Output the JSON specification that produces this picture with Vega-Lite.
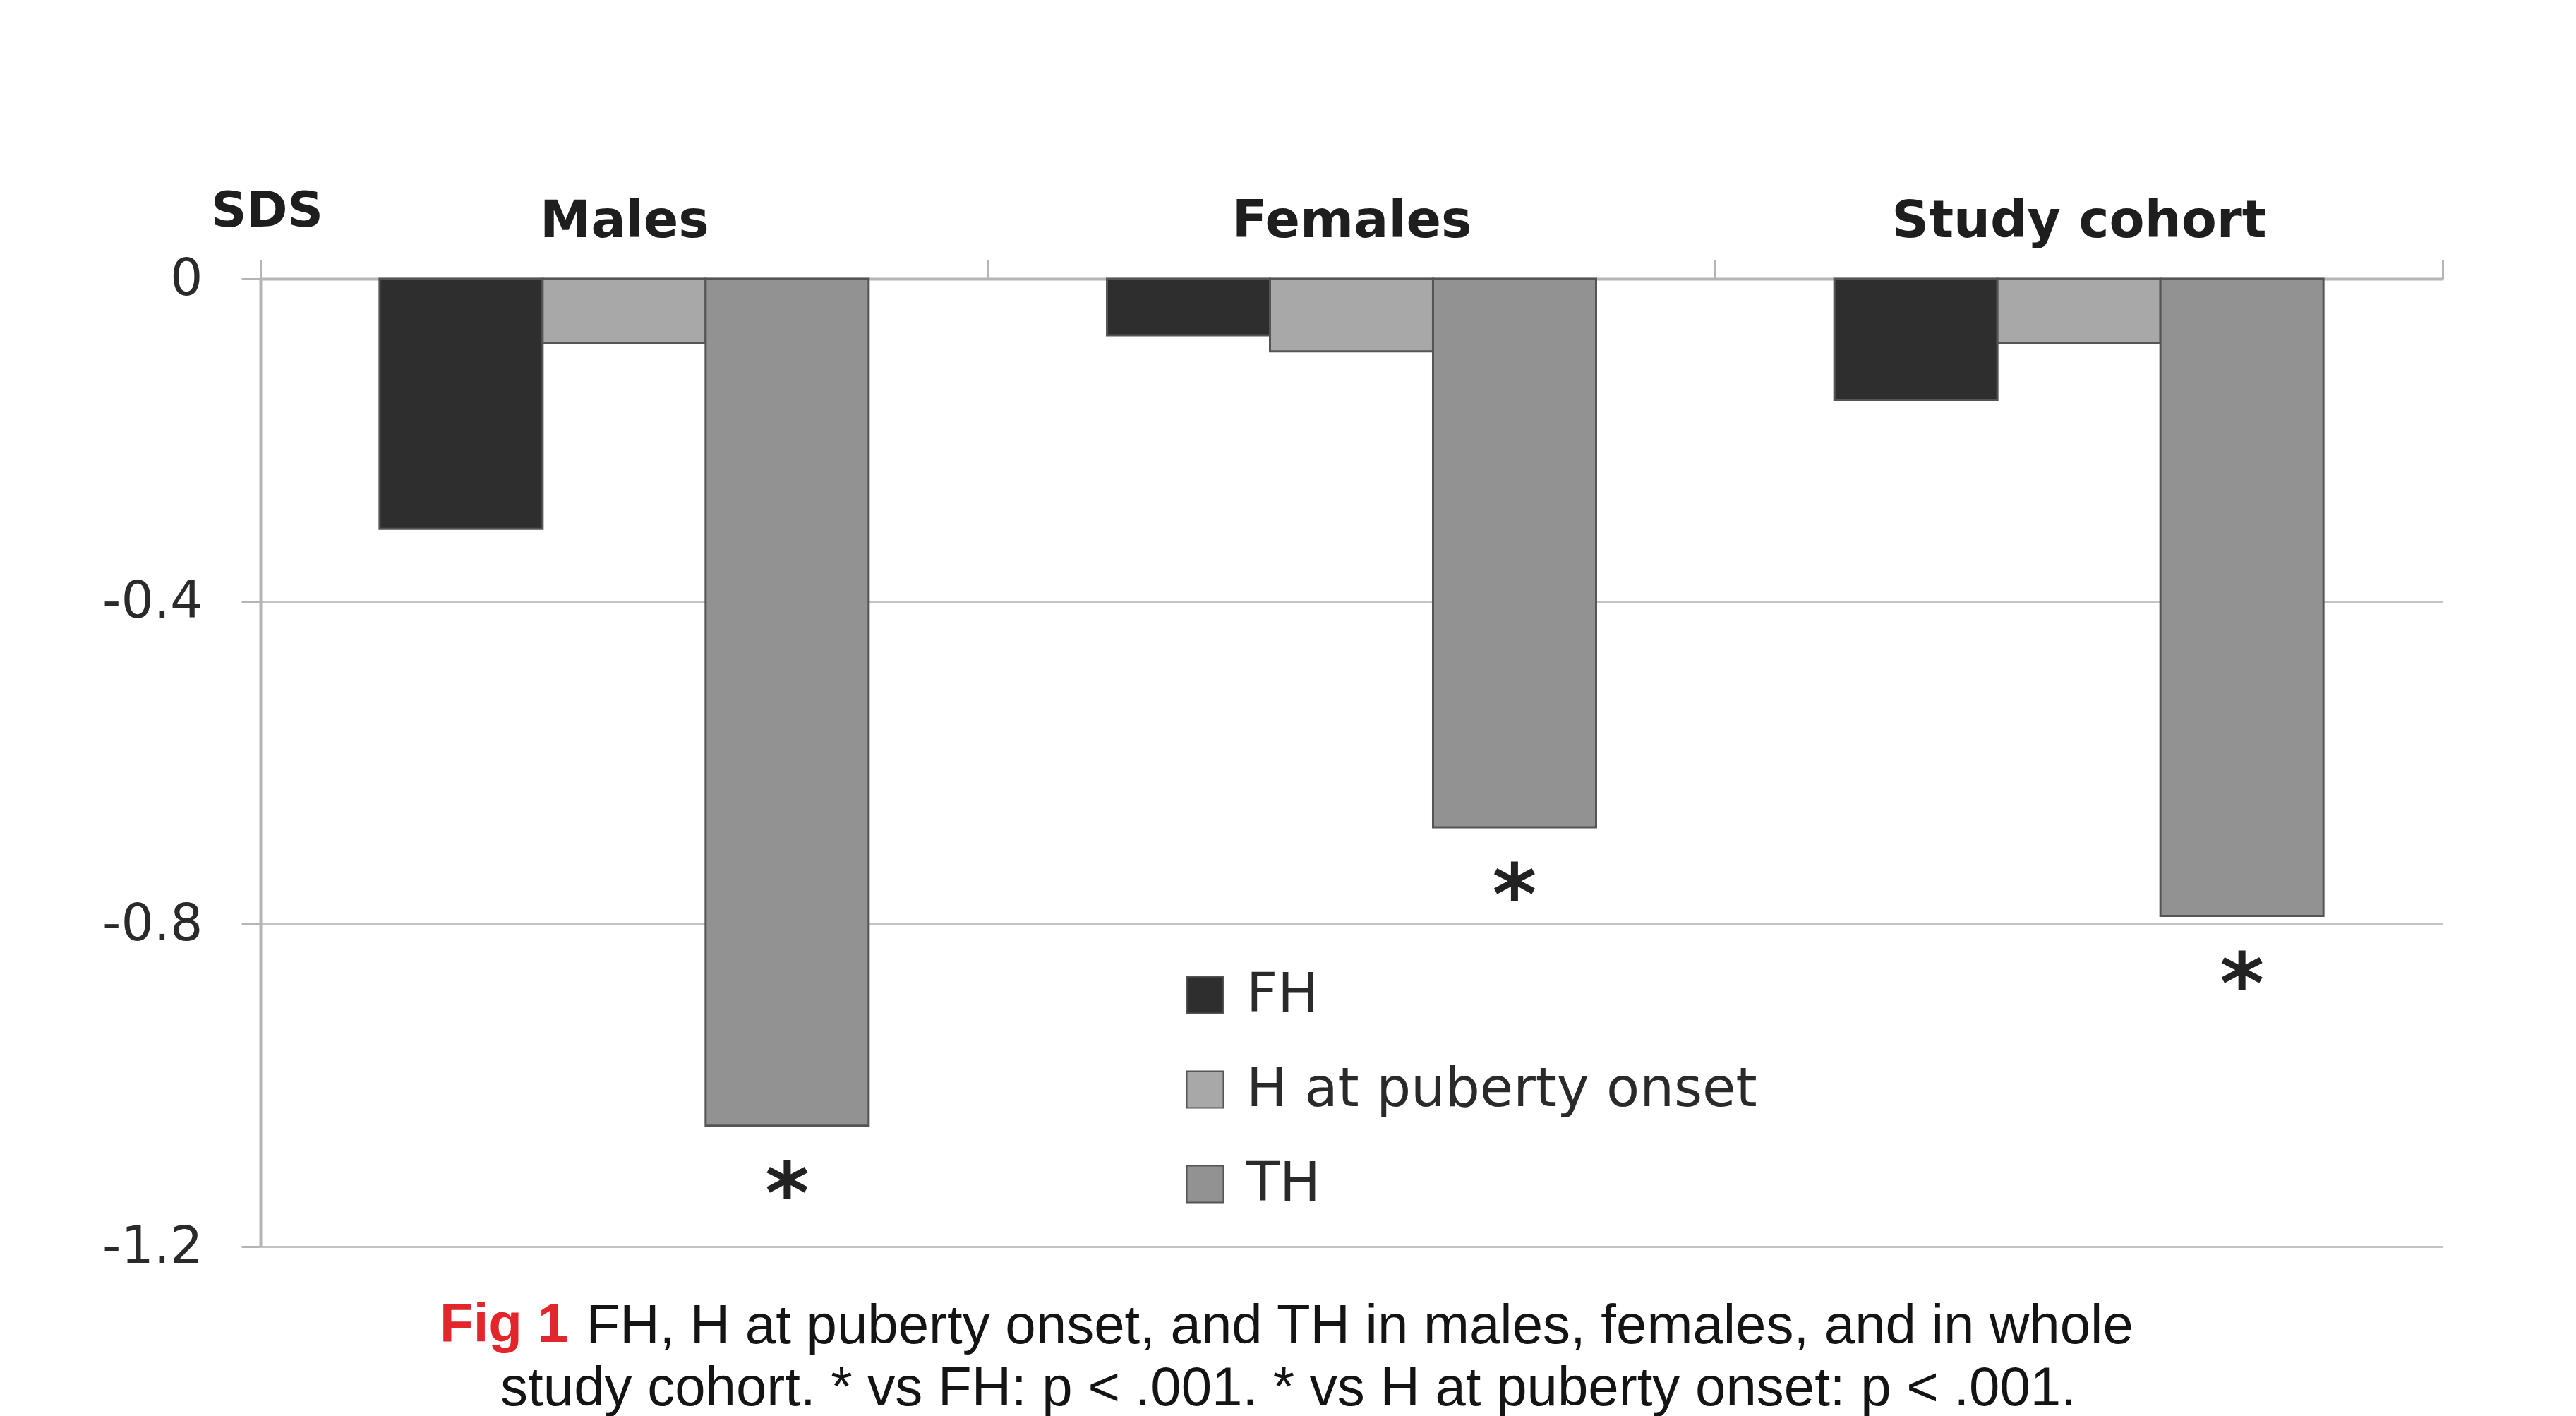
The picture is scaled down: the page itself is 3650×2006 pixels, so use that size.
{
  "$schema": "https://vega.github.io/schema/vega-lite/v6.json",
  "width": 3092,
  "height": 1371,
  "autosize": {"type": "none"},
  "padding": {"left": 369, "top": 395, "right": 189, "bottom": 240},
  "background": "white",
  "config": {"view": {"stroke": null}, "font": "DejaVu Sans"},
  "title": {
    "text": "Fig 1",
    "orient": "bottom",
    "anchor": "start",
    "frame": "group",
    "font": "Liberation Sans",
    "fontSize": 78,
    "fontWeight": "bold",
    "color": "#e3262b",
    "baseline": "alphabetic",
    "offset": -105,
    "dx": 254
  },
  "data": {
    "values": [
      {"group": "Males", "series": "FH", "value": -0.31, "sig": ""},
      {"group": "Males", "series": "H at puberty onset", "value": -0.08, "sig": ""},
      {"group": "Males", "series": "TH", "value": -1.05, "sig": "*"},
      {"group": "Females", "series": "FH", "value": -0.07, "sig": ""},
      {"group": "Females", "series": "H at puberty onset", "value": -0.09, "sig": ""},
      {"group": "Females", "series": "TH", "value": -0.68, "sig": "*"},
      {"group": "Study cohort", "series": "FH", "value": -0.15, "sig": ""},
      {"group": "Study cohort", "series": "H at puberty onset", "value": -0.08, "sig": ""},
      {"group": "Study cohort", "series": "TH", "value": -0.79, "sig": "*"}
    ]
  },
  "encoding": {
    "xOffset": {
      "field": "series",
      "type": "nominal",
      "sort": ["FH", "H at puberty onset", "TH"],
      "scale": {"paddingInner": 0, "paddingOuter": 0.731}
    }
  },
  "layer": [
    {
      "mark": {"type": "bar", "stroke": "#555555", "strokeWidth": 3},
      "encoding": {
        "x": {
          "field": "group",
          "type": "nominal",
          "sort": ["Males", "Females", "Study cohort"],
          "scale": {"paddingInner": 0, "paddingOuter": 0},
          "axis": {
            "orient": "top",
            "title": null,
            "labelAngle": 0,
            "labelLimit": 2000,
            "labelFont": "DejaVu Sans",
            "labelFontWeight": "bold",
            "labelFontSize": 73,
            "labelColor": "#1e1e1e",
            "labelPadding": 33,
            "labelBaseline": "alphabetic",
            "tickBand": "extent",
            "tickSize": 27,
            "tickColor": "#b5b5b5",
            "tickWidth": 3,
            "domainColor": "#b5b5b5",
            "domainWidth": 4,
            "grid": false
          }
        },
        "y": {
          "field": "value",
          "type": "quantitative",
          "scale": {"domain": [-1.2, 0], "nice": false},
          "axis": {
            "orient": "left",
            "title": "SDS",
            "titleAngle": 0,
            "titleAlign": "center",
            "titleBaseline": "alphabetic",
            "titleX": 9,
            "titleY": -75,
            "titleFont": "DejaVu Sans",
            "titleFontWeight": "bold",
            "titleFontSize": 70,
            "titleColor": "#1e1e1e",
            "values": [0, -0.4, -0.8, -1.2],
            "labelExpr": "replace(format(datum.value, '.1~f'), '\u2212', '-')",
            "labelFont": "DejaVu Sans",
            "labelFontSize": 73,
            "labelColor": "#2a2a2a",
            "labelPadding": 55,
            "tickSize": 27,
            "tickColor": "#b5b5b5",
            "tickWidth": 3,
            "domainColor": "#b5b5b5",
            "domainWidth": 4,
            "grid": true,
            "gridColor": "#c4c4c4",
            "gridWidth": 3
          }
        },
        "fill": {
          "field": "series",
          "type": "nominal",
          "sort": ["FH", "H at puberty onset", "TH"],
          "scale": {"range": ["#2e2e2e", "#a8a8a8", "#929292"]},
          "legend": {
            "orient": "none",
            "legendX": 1300,
            "legendY": 976,
            "title": null,
            "symbolType": "square",
            "symbolSize": 2700,
            "symbolStrokeColor": "#555555",
            "symbolStrokeWidth": 2,
            "symbolOpacity": 1,
            "labelFont": "DejaVu Sans",
            "labelFontSize": 77,
            "labelLimit": 2000,
            "labelColor": "#2a2a2a",
            "labelOffset": 20,
            "rowPadding": 56
          }
        }
      }
    },
    {
      "transform": [{"filter": "datum.sig == '*'"}],
      "mark": {
        "type": "text",
        "font": "DejaVu Sans",
        "fontWeight": "bold",
        "fontSize": 120,
        "color": "#222222",
        "baseline": "alphabetic",
        "align": "center",
        "dy": 137
      },
      "encoding": {
        "x": {
          "field": "group",
          "type": "nominal",
          "sort": ["Males", "Females", "Study cohort"],
          "scale": {"paddingInner": 0, "paddingOuter": 0},
          "axis": {
            "orient": "bottom",
            "labels": false,
            "ticks": false,
            "domain": false,
            "grid": false,
            "title": "FH, H at puberty onset, and TH in males, females, and in whole",
            "titleFont": "Liberation Sans",
            "titleFontSize": 78,
            "titleFontWeight": "normal",
            "titleColor": "#141414",
            "titleX": 461,
            "titleY": 136,
            "titleAlign": "left",
            "titleBaseline": "alphabetic",
            "titleLimit": 4000
          }
        },
        "y": {
          "field": "value",
          "type": "quantitative",
          "scale": {"domain": [-1.2, 0], "nice": false},
          "axis": {
            "orient": "right",
            "labels": false,
            "ticks": false,
            "domain": false,
            "grid": false,
            "title": "study cohort. * vs FH: p < .001. * vs H at puberty onset: p < .001.",
            "titleAngle": 0,
            "titleFont": "Liberation Sans",
            "titleFontSize": 78,
            "titleFontWeight": "normal",
            "titleColor": "#141414",
            "titleX": -1636,
            "titleY": 1595,
            "titleAlign": "center",
            "titleBaseline": "alphabetic",
            "titleLimit": 4000
          }
        },
        "text": {"field": "sig"}
      }
    }
  ],
  "resolve": {"axis": {"x": "independent", "y": "independent"}}
}
